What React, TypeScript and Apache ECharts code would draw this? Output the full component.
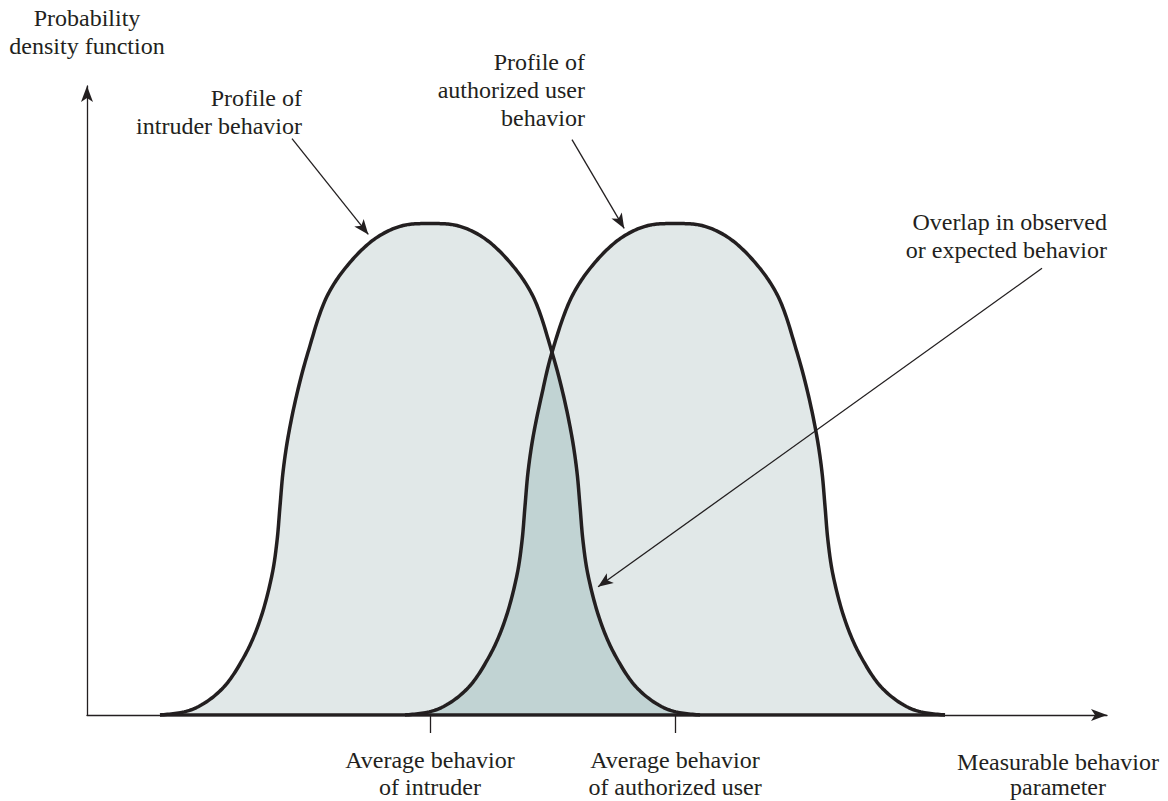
import React, { useEffect, useRef } from "react";
import * as echarts from "echarts";

const INK = "#231f20";
const FONT = "'Liberation Serif', 'Times New Roman', serif";
const LIGHT_FILL = "#e1e8e8";
const OVERLAP_FILL = "#c1d3d3";

// Probability density profiles (x = behavior parameter, y = density, peak = 1)
const intruderCurve: [number, number][] = [
  [0.73, 0], [1.06, 0.012], [1.35, 0.053], [1.58, 0.122], [1.73, 0.193], [1.85, 0.285],
  [1.9, 0.354], [1.93, 0.425], [1.96, 0.494], [2.01, 0.565], [2.1, 0.654], [2.21, 0.738],
  [2.4, 0.852], [2.63, 0.921], [2.9, 0.972], [3.16, 0.996], [3.43, 1.0],
  [3.7, 0.996], [3.96, 0.972], [4.23, 0.921], [4.46, 0.852], [4.65, 0.738], [4.76, 0.654],
  [4.85, 0.565], [4.9, 0.494], [4.93, 0.425], [4.96, 0.354], [5.01, 0.285], [5.13, 0.193],
  [5.28, 0.122], [5.51, 0.053], [5.8, 0.012], [6.13, 0],
];

const authorizedCurve: [number, number][] = [
  [3.18, 0], [3.51, 0.012], [3.8, 0.053], [4.03, 0.122], [4.18, 0.193], [4.3, 0.285],
  [4.35, 0.354], [4.38, 0.425], [4.41, 0.494], [4.46, 0.565], [4.55, 0.654], [4.65, 0.738],
  [4.85, 0.852], [5.08, 0.921], [5.35, 0.972], [5.61, 0.996], [5.88, 1.0],
  [6.15, 0.996], [6.41, 0.972], [6.68, 0.921], [6.91, 0.852], [7.1, 0.738], [7.21, 0.654],
  [7.3, 0.565], [7.35, 0.494], [7.38, 0.425], [7.41, 0.354], [7.46, 0.285], [7.58, 0.193],
  [7.73, 0.122], [7.96, 0.053], [8.25, 0.012], [8.58, 0],
];

// point shared by both curves where they intersect
const crossingX = 4.65;

const tickValues = [3.43, 5.88];
const tickLabels = ["Average behavior\nof intruder", "Average behavior\nof authorized user"];

const yAxisName = "Probability\ndensity function";
const xAxisName = "Measurable behavior\nparameter";

const calloutArrows: { from: [number, number]; to: [number, number] }[] = [
  { from: [2.05, 1.173], to: [2.86, 0.966] },
  { from: [4.85, 1.171], to: [5.41, 0.977] },
  { from: [9.55, 0.909], to: [5.05, 0.252] },
];

const calloutTexts = [
  "Profile of\nintruder behavior",
  "Profile of\nauthorized user\nbehavior",
  "Overlap in observed\nor expected behavior",
];

const X_MAX = 10.2;
const Y_MAX = 1.28;

type P = [number, number];

// centripetal Catmull-Rom through pixel points, sampled into a dense polyline
function sampleSpline(pts: P[], i0: number, i1: number, steps = 18): P[] {
  const n = pts.length;
  const get = (i: number): P => {
    if (i < 0) return [pts[0][0] - (pts[1][0] - pts[0][0]), pts[0][1]];
    if (i >= n) return [pts[n - 1][0] + (pts[n - 1][0] - pts[n - 2][0]), pts[n - 1][1]];
    return pts[i];
  };
  const out: P[] = [];
  for (let i = i0; i < i1; i++) {
    const p0 = get(i - 1), p1 = get(i), p2 = get(i + 1), p3 = get(i + 2);
    const d = (a: P, b: P) => Math.max(Math.pow(Math.hypot(b[0] - a[0], b[1] - a[1]), 0.5), 1e-6);
    const t01 = d(p0, p1), t12 = d(p1, p2), t23 = d(p2, p3);
    const m1: P = [0, 0], m2: P = [0, 0];
    for (let k = 0; k < 2; k++) {
      m1[k] = p2[k] - p1[k] + t12 * ((p1[k] - p0[k]) / t01 - (p2[k] - p0[k]) / (t01 + t12));
      m2[k] = p2[k] - p1[k] + t12 * ((p3[k] - p2[k]) / t23 - (p3[k] - p1[k]) / (t12 + t23));
    }
    const c1: P = [p1[0] + m1[0] / 3, p1[1] + m1[1] / 3];
    const c2: P = [p2[0] - m2[0] / 3, p2[1] - m2[1] / 3];
    for (let s = 0; s < steps; s++) {
      const t = s / steps, u = 1 - t;
      out.push([
        u * u * u * p1[0] + 3 * u * u * t * c1[0] + 3 * u * t * t * c2[0] + t * t * t * p2[0],
        u * u * u * p1[1] + 3 * u * u * t * c1[1] + 3 * u * t * t * c2[1] + t * t * t * p2[1],
      ]);
    }
  }
  out.push(get(i1));
  return out;
}

export default function App() {
  const ref = useRef<HTMLDivElement>(null);

  useEffect(() => {
    document.body.style.margin = "0";
    if (!ref.current) return;
    const chart = echarts.init(ref.current, undefined, { renderer: "svg" });

    const gridLeft = 87;
    const gridRight = 61;
    const gridTop = 86;
    const gridBottom = 86;
    const pxPerX = (1168 - gridLeft - gridRight) / X_MAX;
    const pxPerY = (801 - gridTop - gridBottom) / Y_MAX;
    const arrowLen = 15;

    const crossA = authorizedCurve.findIndex((p) => p[0] === crossingX);
    const crossI = intruderCurve.findIndex((p) => p[0] === crossingX);

    // pull the end back so the arrow tip (symbol centered at end) touches the curve
    const arrowData = calloutArrows.map(({ from, to }) => {
      const dx = (to[0] - from[0]) * pxPerX;
      const dy = (to[1] - from[1]) * pxPerY;
      const len = Math.hypot(dx, dy);
      const back = arrowLen / 2;
      const end: [number, number] = [
        to[0] - ((dx / len) * back) / pxPerX,
        to[1] - ((dy / len) * back) / pxPerY,
      ];
      return [{ coord: from }, { coord: end }];
    });

    const textStyle = { fontFamily: FONT, fontSize: 24, fill: INK, lineHeight: 28 };

    const toPx = (api: any, curve: P[]) => curve.map((p) => api.coord(p) as P);

    const fillSeries = (curve: P[], color: string) => ({
      type: "custom",
      data: curve,
      encode: { x: 0, y: 1 },
      silent: true,
      z: 1,
      renderItem: (params: any, api: any) => {
        if (params.dataIndex !== 0) return null;
        const pts = toPx(api, curve);
        return {
          type: "polygon",
          shape: { points: sampleSpline(pts, 0, pts.length - 1) },
          style: { fill: color, stroke: null },
        };
      },
    });

    const outlineSeries = (curve: P[]) => ({
      type: "custom",
      data: curve,
      encode: { x: 0, y: 1 },
      silent: true,
      z: 3,
      renderItem: (params: any, api: any) => {
        if (params.dataIndex !== 0) return null;
        const pts = toPx(api, curve);
        return {
          type: "polyline",
          shape: { points: sampleSpline(pts, 0, pts.length - 1) },
          style: { stroke: INK, lineWidth: 3.5, fill: null, lineJoin: "round", lineCap: "butt" },
        };
      },
    });

    const overlapSeries = {
      type: "custom",
      data: authorizedCurve.slice(0, crossA + 1).concat(intruderCurve.slice(crossI + 1)),
      encode: { x: 0, y: 1 },
      silent: true,
      z: 2,
      renderItem: (params: any, api: any) => {
        if (params.dataIndex !== 0) return null;
        const a = toPx(api, authorizedCurve);
        const b = toPx(api, intruderCurve);
        const pts = sampleSpline(a, 0, crossA).concat(sampleSpline(b, crossI, b.length - 1));
        return {
          type: "polygon",
          shape: { points: pts },
          style: { fill: OVERLAP_FILL, stroke: null },
        };
      },
    };

    chart.setOption({
      animation: false,
      backgroundColor: "#ffffff",
      grid: {
        left: gridLeft,
        right: gridRight,
        top: gridTop,
        bottom: gridBottom,
        outerBoundsMode: "none",
        containLabel: false,
      },
      xAxis: {
        type: "value",
        min: 0,
        max: X_MAX,
        splitLine: { show: false },
        axisLine: {
          onZero: true,
          lineStyle: { color: INK, width: 1.3 },
          symbol: ["none", "arrow"],
          symbolSize: [9, 16],
        },
        axisTick: {
          show: true,
          length: 18,
          lineStyle: { color: INK, width: 1.3 },
          customValues: tickValues,
        },
        axisLabel: {
          show: true,
          customValues: tickValues,
          margin: 31,
          color: INK,
          fontFamily: FONT,
          fontSize: 24,
          lineHeight: 27,
          align: "center",
          verticalAlign: "top",
          formatter: (v: number) => {
            const i = tickValues.findIndex((t) => Math.abs(t - v) < 1e-6);
            return i >= 0 ? tickLabels[i] : "";
          },
        },
      },
      yAxis: {
        type: "value",
        min: 0,
        max: Y_MAX,
        splitLine: { show: false },
        axisTick: { show: false },
        axisLabel: { show: false },
        axisLine: {
          show: true,
          lineStyle: { color: INK, width: 1.3 },
          symbol: ["none", "arrow"],
          symbolSize: [9, 16],
        },
        name: yAxisName,
        nameLocation: "end",
        nameGap: 26,
        nameTextStyle: {
          color: INK,
          fontFamily: FONT,
          fontSize: 24,
          lineHeight: 28,
          align: "center",
          verticalAlign: "bottom",
        },
      },
      series: [
        fillSeries(intruderCurve, LIGHT_FILL),
        fillSeries(authorizedCurve, LIGHT_FILL),
        overlapSeries,
        outlineSeries(intruderCurve),
        outlineSeries(authorizedCurve),
        {
          type: "line",
          data: [
            [intruderCurve[0][0], 0],
            [authorizedCurve[authorizedCurve.length - 1][0], 0],
          ],
          showSymbol: false,
          silent: true,
          lineStyle: { width: 3.5, color: INK },
          z: 3,
          markLine: {
            silent: true,
            symbol: ["none", "arrow"],
            symbolSize: [9, arrowLen],
            label: { show: false },
            lineStyle: { color: INK, width: 1.3, type: "solid" },
            emphasis: { disabled: true },
            data: arrowData,
          },
        },
      ],
      graphic: [
        { type: "text", x: 302, y: 84, style: { ...textStyle, text: calloutTexts[0], align: "right", verticalAlign: "top" } },
        { type: "text", x: 585, y: 48, style: { ...textStyle, text: calloutTexts[1], align: "right", verticalAlign: "top" } },
        { type: "text", x: 1107, y: 208, style: { ...textStyle, text: calloutTexts[2], align: "right", verticalAlign: "top" } },
        { type: "text", x: 1058, y: 749, style: { ...textStyle, lineHeight: 25, text: xAxisName, align: "center", verticalAlign: "top" } },
      ],
    });

    return () => chart.dispose();
  }, []);

  return (
    <div
      ref={ref}
      style={{ position: "fixed", left: 0, top: 0, width: 1168, height: 801, background: "#fff" }}
    />
  );
}
